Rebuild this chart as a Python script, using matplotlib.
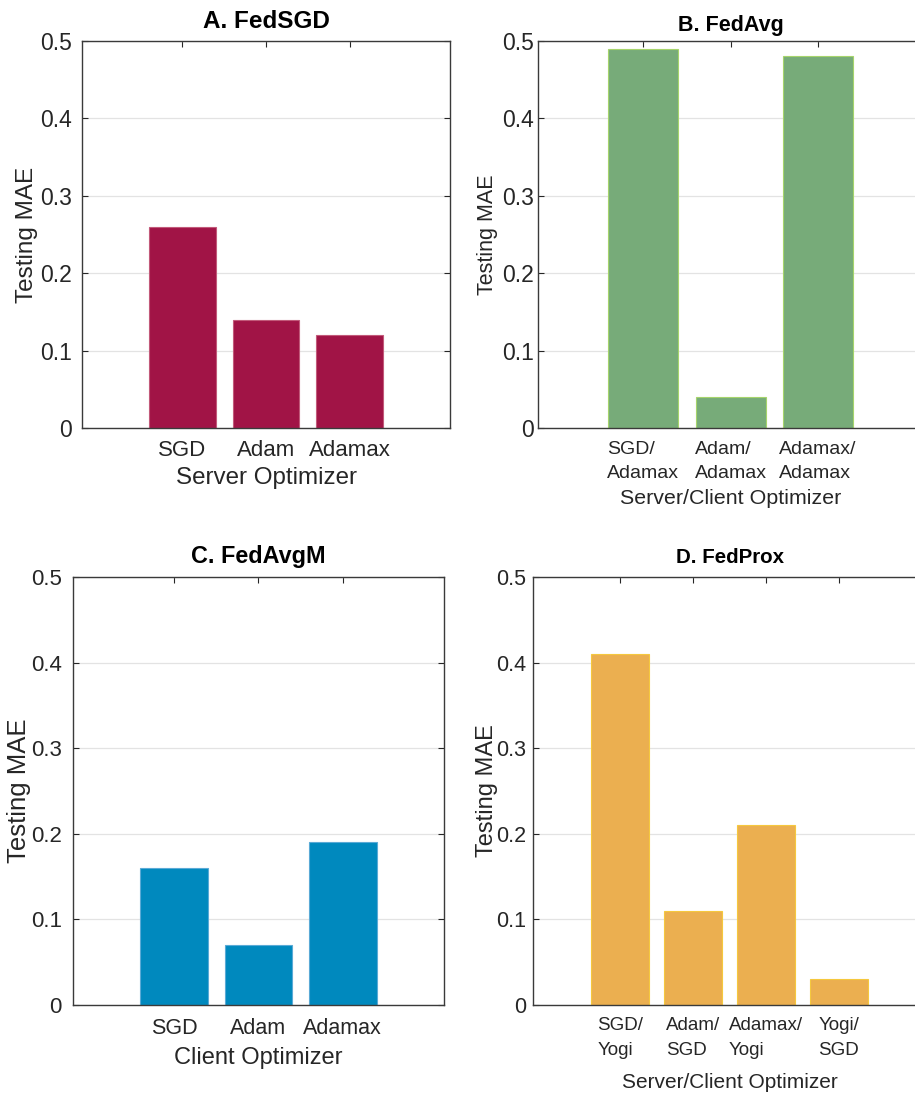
import numpy as np
import matplotlib.pyplot as plt

plt.rcParams['font.family'] = ['Liberation Sans', 'DejaVu Sans']

# data
fedsgd_labels = ['SGD', 'Adam', 'Adamax']
fedsgd_mae = [0.26, 0.14, 0.12]

fedavg_labels = ['SGD/\nAdamax', 'Adam/\nAdamax', 'Adamax/\nAdamax']
fedavg_mae = [0.49, 0.04, 0.48]

fedavgm_labels = ['SGD', 'Adam', 'Adamax']
fedavgm_mae = [0.16, 0.07, 0.19]

fedprox_labels = ['SGD/\nYogi', 'Adam/\nSGD', 'Adamax/\nYogi', 'Yogi/\nSGD']
fedprox_mae = [0.41, 0.11, 0.21, 0.03]

W, H = 915, 1093
fig = plt.figure(figsize=(W / 100, H / 100), dpi=100)
txt = '#262626'


def panel(box, labels, vals, color, edge, title, xlabel, sizes, ylab_x, title_y, xlab_y, tick_pad):
    tfs, xfs, yfs, lfs, xlfs = sizes
    left, top, right, bottom = box
    ax = fig.add_axes([left / W, 1 - bottom / H, (right - left) / W, (bottom - top) / H])
    x = np.arange(1, len(vals) + 1)
    ax.bar(x, vals, width=0.8, color=color, edgecolor=edge, linewidth=0.8, zorder=2)
    ax.set_xlim(-0.2, len(vals) + 1.2)
    ax.set_ylim(0, 0.5)
    ax.set_yticks([0, 0.1, 0.2, 0.3, 0.4, 0.5])
    ax.set_yticklabels(['0', '0.1', '0.2', '0.3', '0.4', '0.5'], fontsize=yfs, color=txt)
    ax.set_xticks(x)
    ax.set_xticklabels(labels, fontsize=xfs, color=txt, linespacing=1.6,
                       multialignment='left')
    ax.grid(axis='y', color='#e3e3e3', linewidth=0.9, zorder=0)
    ax.set_axisbelow(True)
    ax.tick_params(direction='in', top=True, right=True, length=4, width=0.8,
                   color=txt)
    ax.tick_params(axis='y', pad=tick_pad)
    ax.tick_params(axis='x', pad=9)
    for s in ax.spines.values():
        s.set_color('#3a3a3a')
        s.set_linewidth(1.0)
    hpx = bottom - top
    ax.set_title(title, fontsize=tfs, fontweight='bold', va='center', pad=0,
                 y=(bottom - title_y) / hpx)
    ax.set_xlabel(xlabel, fontsize=xlfs, color=txt, va='center')
    ax.xaxis.set_label_coords(0.5, (bottom - xlab_y) / hpx)
    ax.set_ylabel('Testing MAE', fontsize=lfs, color=txt, va='center')
    ax.yaxis.set_label_coords((ylab_x - left) / (right - left), 0.5)
    return ax


# sizes: title, xticks, yticks, ylabel, xlabel
panel((82, 41, 450, 428), fedsgd_labels, fedsgd_mae, '#a11446', '#c25a7a',
      'A. FedSGD', 'Server Optimizer', (17.5, 16, 16.5, 17.5, 17.4),
      27, 21, 478, 7)
panel((538, 41, 923, 428), fedavg_labels, fedavg_mae, '#77ab79', '#a6d46c',
      'B. FedAvg', 'Server/Client Optimizer', (15.5, 14, 16.5, 15.5, 15.4),
      487, 25, 498, 3)
panel((73, 577, 444, 1005), fedavgm_labels, fedavgm_mae, '#0089be', '#5aaad6',
      'C. FedAvgM', 'Client Optimizer', (16.8, 15.5, 16, 18.5, 17),
      19, 556, 1058, 8)
panel((533, 577, 926, 1005), fedprox_labels, fedprox_mae, '#ebaf50', '#f5c83e',
      'D. FedProx', 'Server/Client Optimizer', (14.8, 13.5, 15.5, 17, 15),
      487, 557, 1083, 5)

fig.savefig('out.png', dpi=100)
